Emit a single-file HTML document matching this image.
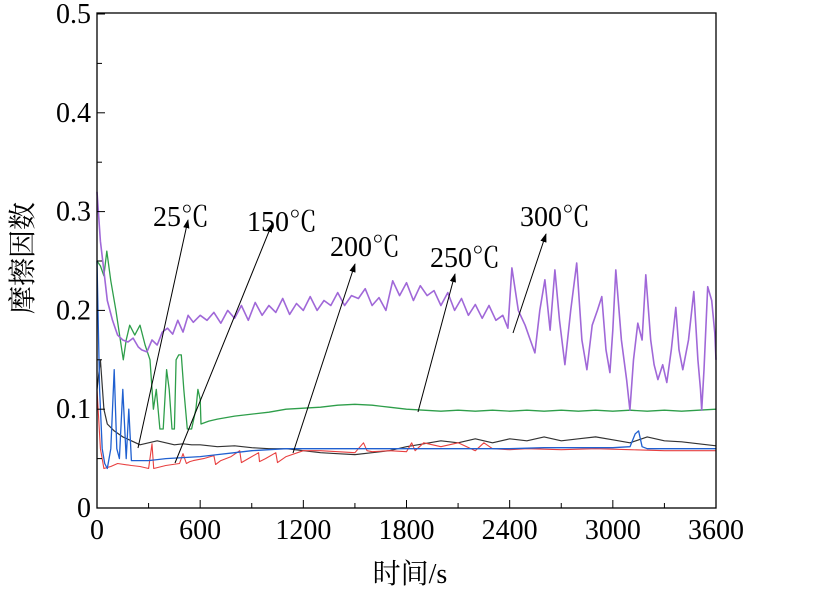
<!DOCTYPE html>
<html><head><meta charset="utf-8">
<style>
html,body{margin:0;padding:0;background:#fff;}
svg{display:block;font-family:"Liberation Serif","Noto Serif CJK SC",serif;}
</style></head>
<body>
<svg width="814" height="591" viewBox="0 0 814 591" id="chart">
<rect x="0" y="0" width="814" height="591" fill="#fff"/>
<g id="plot"></g>
<g id="axes"></g>
<g id="notes"></g>
<text x="410" y="583" font-size="28" text-anchor="middle">时间/s</text>
<text transform="translate(32,258) rotate(-90)" font-size="28" text-anchor="middle">摩擦因数</text>
</svg>
<script>
const xTicks=[0,600,1200,1800,2400,3000,3600];
const yTicks=[0,0.1,0.2,0.3,0.4,0.5];
const yTickLabels=["0","0.1","0.2","0.3","0.4","0.5"];
const t300=[0,20,40,60,90,120,150,180,210,240,260,290,320,350,380,410,440,470,500,530,560,600,640,680,720,760,800,840,880,920,960,1000,1040,1080,1120,1160,1200,1240,1280,1320,1360,1400,1440,1480,1520,1560,1600,1640,1680,1720,1760,1800,1840,1880,1920,1960,2000,2040,2080,2120,2160,2200,2240,2280,2320,2360,2390,2413,2450,2490,2520,2547,2575,2605,2635,2663,2690,2721,2755,2790,2820,2849,2880,2910,2936,2960,2983,3000,3017,3050,3080,3099,3120,3145,3170,3192,3220,3240,3262,3290,3314,3340,3366,3385,3407,3440,3471,3495,3510,3517,3530,3552,3575,3593,3600];
const v300=[0.32,0.27,0.24,0.21,0.19,0.175,0.17,0.168,0.172,0.163,0.16,0.158,0.17,0.165,0.178,0.182,0.176,0.19,0.178,0.195,0.188,0.195,0.19,0.198,0.187,0.2,0.192,0.205,0.19,0.208,0.195,0.205,0.198,0.212,0.196,0.207,0.2,0.214,0.2,0.21,0.205,0.218,0.205,0.215,0.212,0.222,0.205,0.213,0.2,0.23,0.215,0.228,0.21,0.225,0.215,0.22,0.205,0.218,0.2,0.212,0.195,0.206,0.192,0.205,0.19,0.195,0.182,0.243,0.2,0.185,0.17,0.157,0.2,0.231,0.18,0.241,0.19,0.145,0.2,0.248,0.17,0.14,0.185,0.2,0.214,0.16,0.137,0.18,0.241,0.17,0.13,0.099,0.15,0.187,0.17,0.236,0.17,0.145,0.13,0.145,0.127,0.16,0.203,0.16,0.14,0.17,0.219,0.15,0.12,0.099,0.14,0.224,0.21,0.177,0.15];
const t250=[0,20,40,57,80,110,153,170,190,220,250,280,308,328,345,366,385,405,420,436,450,460,475,490,505,525,550,575,587,600,605,650,700,800,900,1000,1100,1200,1300,1400,1500,1600,1700,1800,1900,2000,2100,2200,2300,2400,2500,2600,2700,2800,2900,3000,3100,3200,3300,3400,3500,3600];
const v250=[0.25,0.245,0.235,0.26,0.23,0.2,0.15,0.17,0.185,0.175,0.185,0.165,0.15,0.1,0.12,0.08,0.08,0.14,0.12,0.08,0.08,0.15,0.155,0.155,0.12,0.08,0.08,0.1,0.12,0.11,0.085,0.088,0.09,0.093,0.095,0.097,0.1,0.101,0.102,0.104,0.105,0.104,0.102,0.1,0.099,0.098,0.099,0.098,0.099,0.098,0.099,0.098,0.099,0.098,0.099,0.098,0.099,0.098,0.099,0.098,0.099,0.1];
const t25=[0,20,40,60,100,150,200,250,300,350,400,450,500,550,600,700,800,900,1000,1100,1200,1300,1400,1500,1600,1700,1800,1900,2000,2100,2200,2300,2400,2500,2600,2700,2800,2900,3000,3100,3200,3300,3400,3500,3600];
const v25=[0.12,0.15,0.1,0.085,0.078,0.072,0.068,0.064,0.066,0.068,0.066,0.064,0.065,0.064,0.064,0.062,0.063,0.061,0.06,0.06,0.058,0.056,0.055,0.054,0.056,0.058,0.062,0.065,0.068,0.066,0.07,0.066,0.07,0.068,0.072,0.068,0.07,0.072,0.069,0.066,0.072,0.068,0.067,0.065,0.063];
const t150=[0,20,40,80,120,200,250,300,320,330,400,480,500,520,540,560,620,680,690,720,780,830,840,880,940,945,980,1040,1050,1100,1200,1300,1400,1500,1550,1570,1600,1700,1800,1830,1850,1900,2000,2100,2200,2250,2300,2400,2500,2700,2900,3100,3300,3500,3600];
const v150=[0.12,0.06,0.04,0.042,0.045,0.043,0.042,0.04,0.065,0.04,0.043,0.045,0.055,0.045,0.047,0.048,0.05,0.053,0.044,0.048,0.052,0.058,0.046,0.05,0.056,0.047,0.05,0.056,0.046,0.052,0.058,0.058,0.057,0.056,0.066,0.058,0.057,0.058,0.057,0.066,0.058,0.066,0.062,0.066,0.058,0.066,0.06,0.059,0.06,0.059,0.06,0.059,0.058,0.058,0.058];
const t200=[0,15,30,45,60,80,100,115,130,150,170,185,200,250,300,400,500,600,700,800,900,1000,1100,1200,1400,1600,1800,2000,2200,2400,2600,2800,3000,3100,3130,3150,3170,3200,3300,3400,3500,3600];
const v200=[0.25,0.12,0.06,0.045,0.04,0.06,0.14,0.06,0.05,0.12,0.05,0.1,0.048,0.048,0.048,0.05,0.051,0.052,0.054,0.056,0.058,0.059,0.06,0.06,0.06,0.06,0.06,0.06,0.06,0.06,0.061,0.061,0.061,0.062,0.075,0.078,0.062,0.06,0.06,0.06,0.06,0.06];
const X0=97,X1=716,Y0=508,Y1=14;
function sx(t){return X0+(t/3600)*(X1-X0);}
function sy(v){return Y0-(v/0.5)*(Y0-Y1);}
const NS="http://www.w3.org/2000/svg";
function mk(tag,attrs,parent){const e=document.createElementNS(NS,tag);for(const k in attrs)e.setAttribute(k,attrs[k]);parent.appendChild(e);return e;}
const plot=document.getElementById('plot'),axes=document.getElementById('axes'),notes=document.getElementById('notes');
function series(ts,vs,color,name,w){
  const d=ts.map((t,i)=>(i?'L':'M')+sx(t).toFixed(1)+' '+sy(vs[i]).toFixed(1)).join(' ');
  const p=mk('path',{d:d,fill:'none',stroke:color,'stroke-width':w,'stroke-linejoin':'round'},plot);
  
  
}
series(t250,v250,'#2e9e4a','series-250c','1.3');
series(t300,v300,'#a068d8','series-300c','1.6');
series(t25,v25,'#333333','series-25c','1.2');
series(t150,v150,'#e84040','series-150c','1.1');
series(t200,v200,'#2060d0','series-200c','1.3');
const fr=mk('rect',{x:X0,y:Y1-1,width:X1-X0,height:Y0-Y1+1,fill:'none',stroke:'#000','stroke-width':'1.3'},axes);


for(let i=0;i<=12;i++){const t=i*300;const l=mk('line',{x1:sx(t),x2:sx(t),y1:Y0,y2:Y0-(i%2?5:8),stroke:'#000','stroke-width':'1'},axes);

}
for(let i=0;i<=10;i++){const v=i*0.05;const l=mk('line',{x1:X0,x2:X0+(i%2?5:8),y1:sy(v),y2:sy(v),stroke:'#000','stroke-width':'1'},axes);

}
xTicks.forEach(t=>{const e=mk('text',{x:sx(t),y:539,'font-size':'28','text-anchor':'middle'},axes);e.textContent=String(t);

});
yTicks.forEach((v,i)=>{const e=mk('text',{x:91,y:sy(v)+9,'font-size':'28','text-anchor':'end'},axes);e.textContent=yTickLabels[i];

});
const ann=[["25℃",153,226,138,448,188,220],["150℃",247,231,175,463,272,224],["200℃",330,256,293,453,355,264],["250℃",430,267,418,412,455,274],["300℃",520,226,513,333,546,234]];
mk('defs',{},notes).innerHTML='<marker id="ah" viewBox="0 0 10 10" refX="9" refY="5" markerWidth="9" markerHeight="9" orient="auto"><path d="M0,1.5 L10,5 L0,8.5 z" fill="#000"/></marker>';
ann.forEach(a=>{const tx=mk('text',{x:a[1],y:a[2],'font-size':'28'},notes);tx.textContent=a[0];


const l=mk('line',{x1:a[3],y1:a[4],x2:a[5],y2:a[6],stroke:'#000','stroke-width':'1','marker-end':'url(#ah)'},notes);

});
</script>
</body></html>
